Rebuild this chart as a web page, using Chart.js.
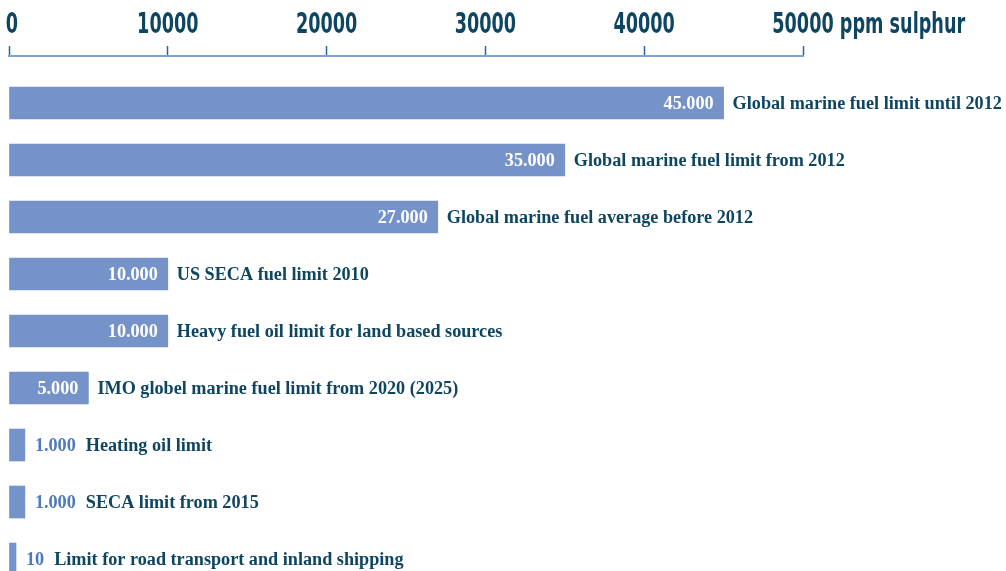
<!DOCTYPE html>
<html>
<head>
<meta charset="utf-8">
<script src="https://cdn.jsdelivr.net/npm/chart.js@4"></script>
<style>
  html, body { margin: 0; padding: 0; background: #fff; overflow: hidden; }
  #wrap { width: 1006px; height: 571px; position: relative; }
</style>
</head>
<body>
<div id="wrap"><canvas id="chart"></canvas></div>
<script>
const categories = [
  'Global marine fuel limit until 2012',
  'Global marine fuel limit from 2012',
  'Global marine fuel average before 2012',
  'US SECA fuel limit 2010',
  'Heavy fuel oil limit for land based sources',
  'IMO globel marine fuel limit from 2020 (2025)',
  'Heating oil limit',
  'SECA limit from 2015',
  'Limit for road transport and inland shipping'
];
const values = [45000, 35000, 27000, 10000, 10000, 5000, 1000, 1000, 10];
const tickValues = [0, 10000, 20000, 30000, 40000, 50000];
const unitLabel = 'ppm sulphur';

const BAR = '#7593c9';
const DARK = '#0e4662';
const AXIS_FONT = "bold 28px 'DejaVu Sans', sans-serif";
const SQUEEZE = 0.63;
const SERIF = "'Liberation Serif', 'DejaVu Serif', serif";

const ctx = document.getElementById('chart').getContext('2d');

// value + category text next to each bar
const barLabels = {
  id: 'barLabels',
  afterDatasetsDraw(chart) {
    const c = chart.ctx;
    const meta = chart.getDatasetMeta(0);
    c.save();
    c.font = 'bold 18.2px ' + SERIF;
    c.textBaseline = 'middle';
    meta.data.forEach((bar, i) => {
      const txt = values[i].toLocaleString('de-DE');
      const w = c.measureText(txt).width;
      const left = bar.base;
      const right = bar.x;
      let next;
      if (right - left > w + 20) {
        c.fillStyle = '#ffffff';
        c.textAlign = 'right';
        c.fillText(txt, right - 10, bar.y + 1);
        next = right + 9;
      } else {
        c.fillStyle = '#4d7ab8';
        c.textAlign = 'left';
        c.fillText(txt, right + 10, bar.y + 1);
        next = right + 10 + w + 10;
      }
      c.fillStyle = DARK;
      c.textAlign = 'left';
      c.fillText(categories[i], next, bar.y + 1);
    });
    c.restore();
  }
};

// condensed tick labels on the top axis, unit after the last one
const axisLabels = {
  id: 'axisLabels',
  afterDraw(chart) {
    const sc = chart.scales.x;
    const c = chart.ctx;
    c.save();
    c.font = AXIS_FONT;
    c.fillStyle = DARK;
    c.textBaseline = 'alphabetic';
    c.textAlign = 'center';
    sc.ticks.forEach((t, i) => {
      const x = sc.getPixelForValue(t.value);
      const label = String(t.value);
      c.save();
      c.translate(x + (i === 0 ? 3 : 0), 33);
      c.scale(SQUEEZE, 1);
      c.fillText(label, 0, 0);
      if (i === sc.ticks.length - 1) {
        const half = c.measureText(label).width / 2;
        c.textAlign = 'left';
        c.fillText(' ' + unitLabel, half, 0);
      }
      c.restore();
    });
    c.restore();
  }
};

new Chart(ctx, {
  type: 'bar',
  data: {
    datasets: [{
      data: values.map((v, i) => ({ x: v, y: i })),
      backgroundColor: BAR,
      borderWidth: 0,
      barThickness: 32,
      minBarLength: 7
    }]
  },
  options: {
    indexAxis: 'y',
    responsive: true,
    maintainAspectRatio: false,
    animation: false,
    layout: { padding: { left: 9, right: 203, top: 0, bottom: 0 } },
    plugins: {
      legend: { display: false },
      tooltip: { enabled: false }
    },
    scales: {
      x: {
        type: 'linear',
        position: 'top',
        min: 0,
        max: 50000,
        afterBuildTicks: s => { s.ticks = tickValues.map(v => ({ value: v })); },
        afterFit: s => { s.height = 56; s.paddingLeft = 0; s.paddingRight = 0; },
        ticks: { display: false },
        grid: {
          display: true,
          drawOnChartArea: false,
          drawTicks: true,
          tickLength: 10,
          tickColor: '#2a64a2',
          tickWidth: 1.5
        },
        border: { display: true, color: '#7ba3d3', width: 2 }
      },
      y: {
        type: 'linear',
        reverse: true,
        offset: false,
        min: -0.8246,
        max: 8.21,
        display: false
      }
    }
  },
  plugins: [barLabels, axisLabels]
});
</script>
</body>
</html>
